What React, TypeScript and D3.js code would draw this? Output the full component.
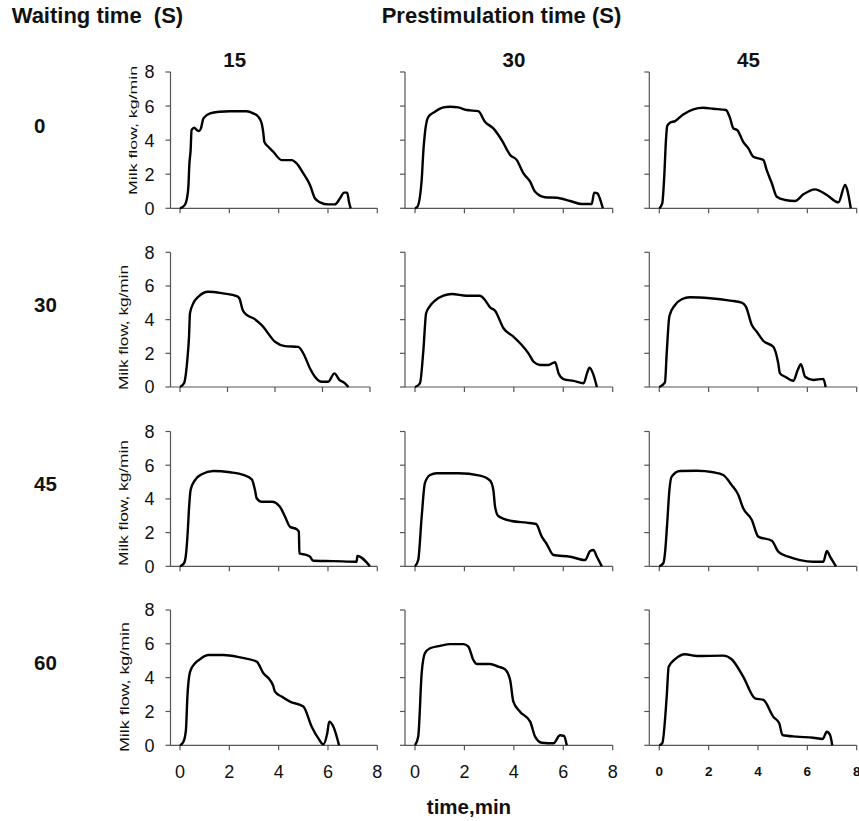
import React from 'react';
import * as d3 from 'd3';

// row categories (waiting time, s) and column categories (prestimulation time, s)
const waitingTimes = ['0', '30', '45', '60'];
const prestimTimes = ['15', '30', '45'];
const xTicks = [0, 2, 4, 6, 8];
const yTicks = [0, 2, 4, 6, 8];

// milk flow curves: [time (min), flow (kg/min)]
const w0p15 = [[0, 0], [0.2, 0.2], [0.27, 0.5], [0.34, 1.27], [0.38, 2.6], [0.43, 3.4], [0.47, 4.6], [0.58, 4.73], [0.68, 4.6], [0.77, 4.53], [0.85, 4.69], [0.95, 5.28], [1.22, 5.57], [1.62, 5.67], [2.03, 5.7], [2.7, 5.7], [2.97, 5.57], [3.17, 5.38], [3.31, 4.99], [3.38, 4.4], [3.42, 3.9], [3.58, 3.61], [3.78, 3.32], [4.12, 2.83], [4.53, 2.83], [4.73, 2.64], [5.0, 2.05], [5.27, 1.37], [5.47, 0.59], [5.68, 0.35], [6.01, 0.23], [6.28, 0.23], [6.49, 0.59], [6.65, 0.92], [6.78, 0.92], [6.85, 0.39], [6.92, 0]];
const w0p30 = [[0, 0], [0.1, 0.1], [0.27, 1.66], [0.34, 3.4], [0.4, 4.4], [0.54, 5.37], [0.81, 5.67], [1.15, 5.92], [1.42, 5.96], [1.75, 5.92], [2.09, 5.77], [2.56, 5.7], [2.83, 5.08], [3.17, 4.69], [3.51, 4.0], [3.85, 3.13], [4.12, 2.83], [4.39, 2.05], [4.66, 1.56], [4.86, 0.97], [5.26, 0.65], [5.74, 0.62], [6.28, 0.43], [6.75, 0.25], [7.15, 0.25], [7.25, 0.92], [7.38, 0.88], [7.49, 0.53], [7.6, 0]];
const w0p45 = [[0, 0], [0.12, 0.29], [0.2, 1.85], [0.27, 4.0], [0.32, 4.83], [0.43, 5.02], [0.64, 5.12], [0.97, 5.51], [1.38, 5.81], [1.78, 5.9], [2.19, 5.84], [2.7, 5.77], [2.87, 5.28], [3.0, 4.69], [3.16, 4.59], [3.4, 3.9], [3.61, 3.52], [3.81, 3.03], [4.22, 2.83], [4.35, 2.25], [4.56, 1.47], [4.76, 0.68], [5.1, 0.49], [5.5, 0.43], [5.84, 0.82], [6.31, 1.11], [6.79, 0.78], [7.26, 0.35], [7.53, 1.37], [7.62, 1.07], [7.76, 0]];
const w30p15 = [[0, 0], [0.17, 0.22], [0.25, 0.81], [0.32, 1.8], [0.38, 2.99], [0.42, 4.38], [0.56, 4.97], [0.77, 5.36], [1.19, 5.66], [1.82, 5.56], [2.39, 5.4], [2.5, 5.27], [2.64, 4.57], [2.81, 4.28], [3.09, 4.08], [3.44, 3.68], [4.0, 2.69], [4.42, 2.43], [4.98, 2.38], [5.26, 1.8], [5.47, 1.11], [5.68, 0.61], [5.97, 0.31], [6.24, 0.31], [6.5, 0.81], [6.71, 0.42], [6.95, 0.22], [7.09, 0]];
const w30p30 = [[0, 0], [0.2, 0.22], [0.34, 2.2], [0.45, 4.38], [0.61, 4.82], [0.81, 5.13], [1.15, 5.42], [1.49, 5.52], [2.09, 5.42], [2.63, 5.42], [2.83, 5.17], [3.04, 4.73], [3.24, 4.53], [3.58, 3.49], [3.98, 2.99], [4.32, 2.49], [4.59, 2.0], [4.8, 1.5], [5.06, 1.31], [5.4, 1.31], [5.67, 1.47], [5.81, 0.81], [6.01, 0.47], [6.42, 0.36], [6.82, 0.22], [6.96, 0.81], [7.06, 1.15], [7.2, 0.81], [7.36, 0]];
const w30p45 = [[0, 0], [0.23, 0.28], [0.3, 2.0], [0.41, 4.22], [0.64, 4.87], [0.91, 5.21], [1.24, 5.33], [2.06, 5.27], [2.87, 5.13], [3.34, 5.01], [3.51, 4.77], [3.75, 3.68], [3.95, 3.28], [4.22, 2.73], [4.62, 2.39], [4.82, 1.41], [4.89, 0.81], [5.1, 0.61], [5.43, 0.37], [5.61, 1.01], [5.74, 1.35], [5.91, 0.61], [6.24, 0.42], [6.65, 0.48], [6.74, 0]];
const w45p15 = [[0, 0], [0.16, 0.18], [0.24, 0.67], [0.31, 1.96], [0.37, 3.54], [0.43, 4.53], [0.61, 5.12], [0.88, 5.46], [1.35, 5.66], [2.03, 5.58], [2.57, 5.42], [2.91, 5.16], [3.04, 4.53], [3.11, 4.04], [3.31, 3.83], [3.72, 3.83], [4.05, 3.54], [4.26, 2.94], [4.46, 2.35], [4.73, 2.2], [4.82, 2.05], [4.84, 0.77], [5.14, 0.67], [5.27, 0.57], [5.4, 0.33], [6.22, 0.31], [7.16, 0.27], [7.19, 0.61], [7.7, 0]];
const w45p30 = [[0, 0], [0.13, 0.37], [0.27, 2.94], [0.4, 4.93], [0.61, 5.42], [0.88, 5.52], [1.75, 5.52], [2.63, 5.38], [3.04, 5.08], [3.17, 4.53], [3.24, 3.54], [3.37, 2.99], [3.91, 2.69], [4.52, 2.59], [4.9, 2.51], [5.13, 1.76], [5.33, 1.32], [5.6, 0.67], [6.28, 0.57], [6.88, 0.37], [7.09, 0.91], [7.22, 0.97], [7.36, 0.57], [7.56, 0]];
const w45p45 = [[0, 0], [0.16, 0.18], [0.23, 0.77], [0.32, 2.55], [0.41, 4.53], [0.5, 5.32], [0.84, 5.66], [1.52, 5.67], [2.19, 5.58], [2.59, 5.42], [2.93, 4.83], [3.2, 4.24], [3.4, 3.44], [3.75, 2.75], [4.01, 1.76], [4.56, 1.52], [4.82, 0.87], [5.23, 0.57], [5.7, 0.37], [6.24, 0.27], [6.65, 0.27], [6.79, 0.91], [6.92, 0.57], [7.16, 0]];
const w60p15 = [[0, 0], [0.14, 0.21], [0.24, 0.9], [0.3, 2.88], [0.41, 4.36], [0.61, 4.85], [0.81, 5.09], [1.15, 5.34], [1.76, 5.34], [2.43, 5.2], [3.11, 4.95], [3.38, 4.26], [3.65, 3.86], [3.78, 3.51], [3.85, 3.17], [4.12, 2.88], [4.46, 2.58], [5.0, 2.29], [5.34, 1.1], [5.61, 0.41], [5.81, 0.06], [5.97, 0.71], [6.05, 1.4], [6.22, 1.1], [6.45, 0]];
const w60p30 = [[0, 0], [0.13, 0.51], [0.27, 4.26], [0.4, 5.44], [0.61, 5.74], [1.01, 5.88], [1.42, 5.98], [1.96, 5.98], [2.16, 5.83], [2.36, 5.05], [2.5, 4.81], [3.04, 4.81], [3.37, 4.65], [3.64, 4.5], [3.85, 3.86], [3.98, 2.58], [4.25, 1.99], [4.66, 1.4], [4.86, 0.51], [5.13, 0.15], [5.6, 0.12], [5.87, 0.59], [6.03, 0.55], [6.14, 0]];
const w60p45 = [[0, 0], [0.12, 0.12], [0.3, 2.88], [0.38, 4.65], [0.64, 5.09], [1.04, 5.38], [1.52, 5.28], [2.59, 5.3], [2.93, 5.09], [3.4, 4.06], [3.88, 2.78], [4.22, 2.68], [4.62, 1.69], [4.86, 1.3], [4.99, 0.61], [5.57, 0.51], [6.24, 0.45], [6.62, 0.37], [6.79, 0.8], [6.92, 0.61], [7.01, 0]];

const curves = [
  [w0p15, w0p30, w0p45],
  [w30p15, w30p30, w30p45],
  [w45p15, w45p30, w45p45],
  [w60p15, w60p30, w60p45],
];

const W = 859;
const H = 821;
const font = '"Liberation Sans", Arial, sans-serif';
const axisColor = '#555';

// panel geometry
const cols = [
  { axisX: 170.5, x0: 180, x8: 377.3, head: 234.7 },
  { axisX: 405, x0: 415, x8: 612.7, head: 514 },
  { axisX: 649.3, x0: 659.3, x8: 856.7, head: 748.5 },
];
const rows = [
  { y0: 208.3, y8: 72, label: 133.3, yl: { cx: 132.5, cy: 130.5, len: 129, size: 11.5 } },
  { y0: 387, y8: 252.3, label: 311.7, yl: { cx: 123.5, cy: 327.5, len: 125, size: 13.5 } },
  { y0: 566.3, y8: 431.5, label: 491, yl: { cx: 123.5, cy: 503, len: 126, size: 13.5 } },
  { y0: 745.3, y8: 610, label: 670, yl: { cx: 124.5, cy: 687, len: 130, size: 13.5 } },
];

const Panel = ({ r, c }: { r: number; c: number }) => {
  const col = cols[c];
  const row = rows[r];
  const right = r === 1 && c === 0 ? 370 : col.x8; // that one panel is drawn narrower
  const x = d3.scaleLinear().domain([0, 8]).range([col.x0, right]);
  const y = d3.scaleLinear().domain([0, 8]).range([row.y0, row.y8]);
  const line = d3.line<number[]>()
    .x(d => x(d[0]))
    .y(d => y(d[1]))
    .curve(d3.curveMonotoneX);
  const lastRow = r === rows.length - 1;

  return (
    <g>
      <line x1={col.axisX} x2={col.axisX} y1={row.y8} y2={row.y0} stroke={axisColor} strokeWidth={1.2} />
      <line x1={col.axisX} x2={right} y1={row.y0} y2={row.y0} stroke={axisColor} strokeWidth={1.2} />
      {yTicks.map(t => (
        <g key={'y' + t}>
          <line x1={col.axisX - 5} x2={col.axisX} y1={y(t)} y2={y(t)} stroke={axisColor} strokeWidth={1.2} />
          {c === 0 && (
            <text x={154.5} y={y(t)} dy="0.36em" textAnchor="end" fontSize={18} fill="#111">{t}</text>
          )}
        </g>
      ))}
      {xTicks.map(t => (
        <g key={'x' + t}>
          <line x1={x(t)} x2={x(t)} y1={row.y0} y2={row.y0 + 5} stroke={axisColor} strokeWidth={1.2} />
          {lastRow && (
            c === 2
              ? <text x={x(t)} y={775.7} textAnchor="middle" fontSize={13.5} fontWeight="bold" fill="#111">{t}</text>
              : <text x={x(t)} y={778.3} textAnchor="middle" fontSize={18} fill="#111">{t}</text>
          )}
        </g>
      ))}
      <path d={line(curves[r][c]) || ''} fill="none" stroke="#000" strokeWidth={2.4} strokeLinejoin="round" />
    </g>
  );
};

export default function App() {
  return (
    <svg width={W} height={H} style={{ position: 'absolute', left: 0, top: 0, background: '#fff' }} fontFamily={font}>
      <rect width={W} height={H} fill="#fff" />
      <text x={11.7} y={22.5} fontSize={22} fontWeight="bold" fill="#111" style={{ whiteSpace: 'pre' }}>{'Waiting time  (S)'}</text>
      <text x={381.7} y={23.3} fontSize={22} fontWeight="bold" fill="#111">Prestimulation time (S)</text>
      {prestimTimes.map((p, c) => (
        <text key={p} x={cols[c].head} y={66.7} textAnchor="middle" fontSize={20.5} fontWeight="bold" fill="#111">{p}</text>
      ))}
      {waitingTimes.map((w, r) => {
        const yl = rows[r].yl;
        return (
          <g key={w}>
            <text x={34} y={rows[r].label} fontSize={20.5} fontWeight="bold" fill="#111">{w}</text>
            <text
              transform={`translate(${yl.cx},${yl.cy}) rotate(-90)`}
              textAnchor="middle"
              dy="0.35em"
              fontSize={yl.size}
              textLength={yl.len}
              lengthAdjust="spacingAndGlyphs"
              fill="#111"
            >Milk flow, kg/min</text>
          </g>
        );
      })}
      {rows.map((_, r) => cols.map((_, c) => <Panel key={r + '-' + c} r={r} c={c} />))}
      <text x={469} y={813.5} textAnchor="middle" fontSize={20.5} fontWeight="bold" fill="#111">time,min</text>
    </svg>
  );
}
